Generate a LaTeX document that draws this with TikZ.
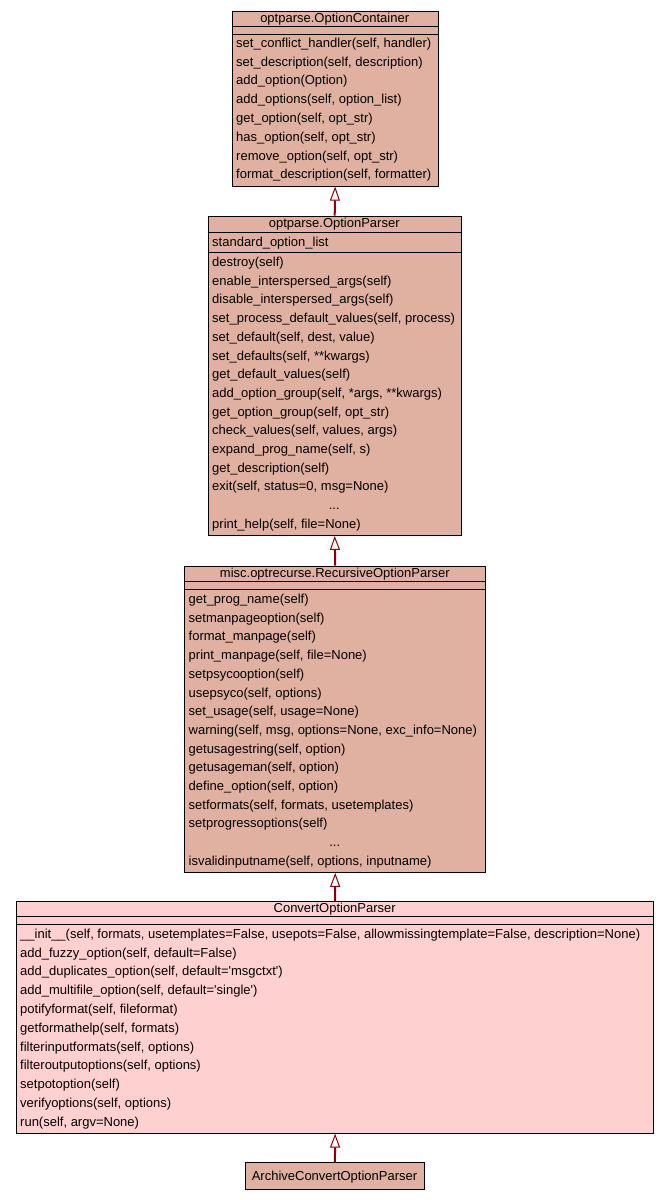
\documentclass[tikz,border=0pt]{standalone}
\usepackage{fontspec}
\setmainfont{Liberation Sans}
\usetikzlibrary{arrows.meta,calc}
\definecolor{clsfill}{RGB}{224,177,160}
\definecolor{focfill}{RGB}{255,208,208}
\definecolor{inhcol}{RGB}{139,0,0}
\begin{document}
\begin{tikzpicture}[x=1pt,y=-1pt,
  font=\fontsize{13}{15.6}\selectfont,
  clsbox/.style={draw=black,line width=0.9pt,fill=clsfill,rectangle,inner sep=0pt,anchor=north west},
  focbox/.style={clsbox,fill=focfill},
  member/.style={anchor=base west,inner sep=0pt},
  ctitle/.style={anchor=base,inner sep=0pt},
  sepline/.style={draw=black,line width=0.9pt},
  inh/.style={draw=inhcol,line width=2pt,-{Triangle[fill=white,length=14pt,width=10pt,line width=1pt]}}]
\useasboundingbox (0,0) rectangle (669,1200);

% ---------- optparse.OptionContainer ----------
\node[clsbox,minimum width=206pt,minimum height=175pt] (c1) at (231.7,10.7) {};
\draw[sepline] (c1.west |- 0,26) -- (c1.east |- 0,26);
\draw[sepline] (c1.west |- 0,34) -- (c1.east |- 0,34);
\node[ctitle] (t1) at (334.7,22.5) {optparse.OptionContainer};
\foreach \t [count=\i from 0] in {%
  set\_conflict\_handler(self{,} handler),
  set\_description(self{,} description),
  add\_option(Option),
  add\_options(self{,} option\_list),
  get\_option(self{,} opt\_str),
  has\_option(self{,} opt\_str),
  remove\_option(self{,} opt\_str),
  format\_description(self{,} formatter)}
  \node[member] (m1-\i) at (236,47.3+\i*18.8) {\t};

% ---------- optparse.OptionParser ----------
\node[clsbox,minimum width=253.5pt,minimum height=319.3pt] (c2) at (207.5,215.7) {};
\draw[sepline] (c2.west |- 0,232.3) -- (c2.east |- 0,232.3);
\draw[sepline] (c2.west |- 0,252.3) -- (c2.east |- 0,252.3);
\node[ctitle] (t2) at (334.2,227.2) {optparse.OptionParser};
\node[member] (a2) at (212,246) {standard\_option\_list};
\foreach \t [count=\i from 0] in {%
  destroy(self),
  enable\_interspersed\_args(self),
  disable\_interspersed\_args(self),
  set\_process\_default\_values(self{,} process),
  set\_default(self{,} dest{,} value),
  set\_defaults(self{,} **kwargs),
  get\_default\_values(self),
  add\_option\_group(self{,} *args{,} **kwargs),
  get\_option\_group(self{,} opt\_str),
  check\_values(self{,} values{,} args),
  expand\_prog\_name(self{,} s),
  get\_description(self),
  exit(self{,} status=0{,} msg=None)}
  \node[member] (m2-\i) at (212,266.5+\i*18.7) {\t};
\node[ctitle] (e2) at (334.2,509.6) {...};
\node[member] (m2-z) at (212,528.3) {print\_help(self{,} file=None)};

% ---------- misc.optrecurse.RecursiveOptionParser ----------
\node[clsbox,minimum width=301pt,minimum height=306.3pt] (c3) at (184.3,565.7) {};
\draw[sepline] (c3.west |- 0,581) -- (c3.east |- 0,581);
\draw[sepline] (c3.west |- 0,589.3) -- (c3.east |- 0,589.3);
\node[ctitle] (t3) at (334.8,577) {misc.optrecurse.RecursiveOptionParser};
\foreach \t [count=\i from 0] in {%
  get\_prog\_name(self),
  setmanpageoption(self),
  format\_manpage(self),
  print\_manpage(self{,} file=None),
  setpsycooption(self),
  usepsyco(self{,} options),
  set\_usage(self{,} usage=None),
  warning(self{,} msg{,} options=None{,} exc\_info=None),
  getusagestring(self{,} option),
  getusageman(self{,} option),
  define\_option(self{,} option),
  setformats(self{,} formats{,} usetemplates),
  setprogressoptions(self)}
  \node[member] (m3-\i) at (188.5,603.5+\i*18.7) {\t};
\node[ctitle] (e3) at (334.8,846.6) {...};
\node[member] (m3-z) at (188.5,865.3) {isvalidinputname(self{,} options{,} inputname)};

% ---------- ConvertOptionParser ----------
\node[focbox,minimum width=637.3pt,minimum height=231.7pt] (c4) at (16,901) {};
\draw[sepline] (c4.west |- 0,916.7) -- (c4.east |- 0,916.7);
\draw[sepline] (c4.west |- 0,924) -- (c4.east |- 0,924);
\node[ctitle] (t4) at (334.7,912.7) {ConvertOptionParser};
\foreach \t [count=\i from 0] in {%
  \_\_init\_\_(self{,} formats{,} usetemplates=False{,} usepots=False{,} allowmissingtemplate=False{,} description=None),
  add\_fuzzy\_option(self{,} default=False),
  add\_duplicates\_option(self{,} default=\textquotesingle msgctxt\textquotesingle),
  add\_multifile\_option(self{,} default=\textquotesingle single\textquotesingle),
  potifyformat(self{,} fileformat),
  getformathelp(self{,} formats),
  filterinputformats(self{,} options),
  filteroutputoptions(self{,} options),
  setpotoption(self),
  verifyoptions(self{,} options),
  run(self{,} argv=None)}
  \node[member] (m4-\i) at (20,938.3+\i*18.8) {\t};

% ---------- ArchiveConvertOptionParser ----------
\node[clsbox,minimum width=179pt,minimum height=26.7pt] (c5) at (245,1162.3) {};
\node[ctitle] (t5) at (334.5,1180.2) {ArchiveConvertOptionParser};

% ---------- inheritance ----------
\draw[inh] (c2.north) -- (c1.south);
\draw[inh] (c3.north) -- (c2.south);
\draw[inh] (c4.north) -- (c3.south);
\draw[inh] (c5.north) -- (c4.south);
\end{tikzpicture}
\end{document}
